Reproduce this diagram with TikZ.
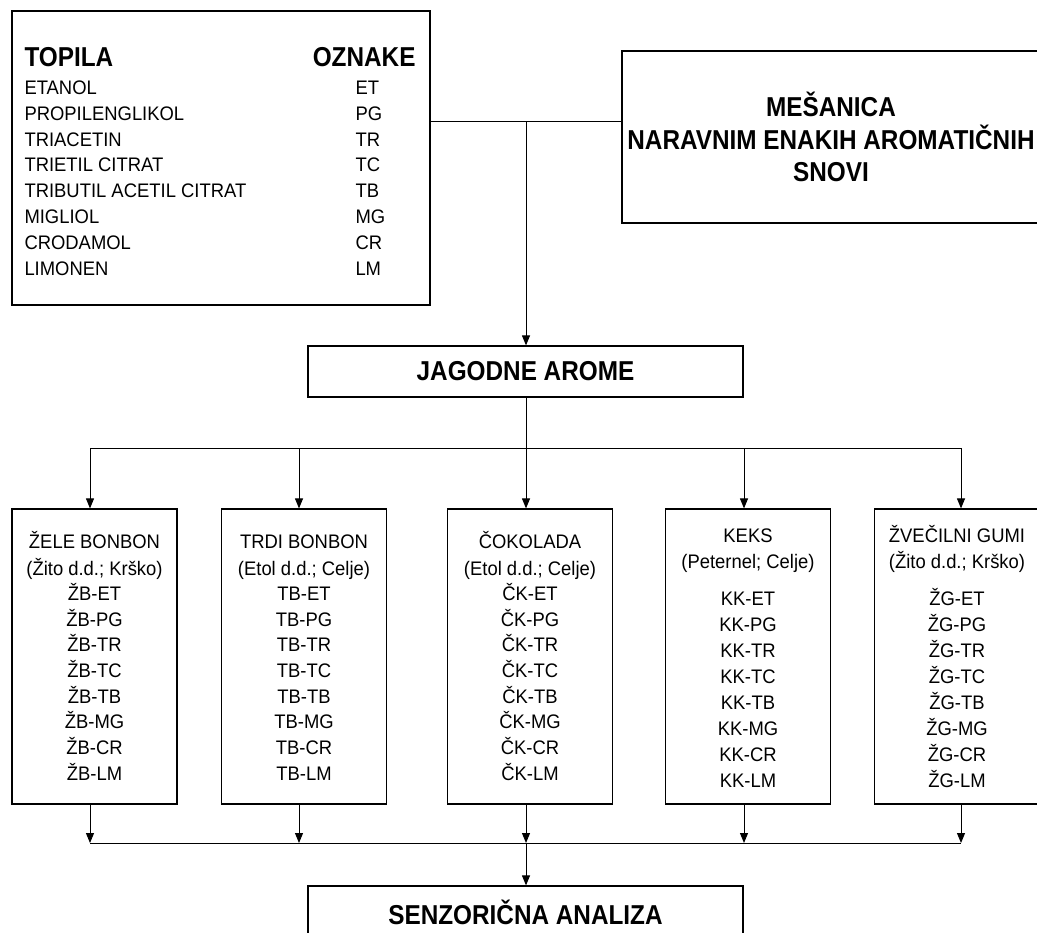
\documentclass[tikz,border=0pt]{standalone}
\usepackage{fontspec}
\setmainfont{Liberation Sans}[FakeStretch=0.94, BoldFeatures={FakeStretch=0.89}]
\usetikzlibrary{arrows.meta}
\newcommand{\bodyfont}{\fontsize{14.7}{16}\selectfont}
\newcommand{\headfont}{\fontsize{20.5}{24.4}\selectfont\bfseries}

\begin{document}
\begin{tikzpicture}[
    x=0.75pt, y=-0.75pt,
    line width=0.75pt,
    box/.style={draw, line width=0.9pt, inner sep=0pt},
    prod/.style={box, minimum width=123.75pt, minimum height=221.25pt},
    arr/.style={-{Triangle[length=7.5pt,width=6pt]}},
    lbl/.style={anchor=base, inner sep=0pt, font=\bodyfont},
    head/.style={anchor=base, inner sep=0pt, font=\headfont},
  ]
  \useasboundingbox (0,0) rectangle (1037,932);
  \clip (0,0) rectangle (1037,932);

  % ---------- Topila / oznake (top-left) ----------------------------------
  \node[box, minimum width=313.5pt, minimum height=220.5pt] (topila) at (221,158) {};
  \node[head, anchor=base west] at (24,66.5) {TOPILA};
  \node[head, anchor=base east] at (416,66.5) {OZNAKE};
  \foreach \name/\code [count=\i from 0] in {ETANOL/ET, PROPILENGLIKOL/PG,
      TRIACETIN/TR, TRIETIL CITRAT/TC, TRIBUTIL ACETIL CITRAT/TB,
      MIGLIOL/MG, CRODAMOL/CR, LIMONEN/LM} {
    \node[lbl, anchor=base west] at (24,{94.3+25.86*\i}) {\name};
    \node[lbl, anchor=base west] at (355,{94.3+25.86*\i}) {\code};
  }

  % ---------- Mesanica (top-right, cut by the page edge) ------------------
  \node[box, minimum width=313.5pt, minimum height=129pt, font=\headfont,
    align=center] (mesanica) at (831,137)
    {MEŠANICA\\NARAVNIM ENAKIH AROMATIČNIH\\SNOVI};

  % ---------- Jagodne arome -----------------------------------------------
  \node[box, minimum width=326.25pt, minimum height=38.25pt, font=\headfont]
    (jagodne) at (525.5,371.5) {JAGODNE AROME};

  \coordinate (split) at (526,121.5);
  \draw (topila.east |- split) -- (mesanica.west |- split);
  \draw[arr] (split) -- (jagodne.north -| split);

  % ---------- Products ----------------------------------------------------
  \foreach \id/\cx in {zb/94.5, tb/304, ck/530, kk/748, zg/957}
    \node[prod] (\id) at (\cx,656.5) {};

  % first three boxes: rows run on straight after the maker
  \foreach \cx/\ttl/\firm/\pre in {94.5/ŽELE BONBON/(Žito d.d.; Krško)/ŽB,
      304/TRDI BONBON/(Etol d.d.; Celje)/TB,
      530/ČOKOLADA/(Etol d.d.; Celje)/ČK} {
    \node[lbl] at (\cx,548.7) {\ttl};
    \node[lbl] at (\cx,575.3) {\firm};
    \foreach \code [count=\j from 0] in {ET,PG,TR,TC,TB,MG,CR,LM}
      \node[lbl] at (\cx,{600.3+25.73*\j}) {\pre-\code};
  }
  % last two boxes: a small gap under the maker
  \foreach \cx/\ttl/\firm/\pre in {748/KEKS/(Peternel; Celje)/KK,
      957/ŽVEČILNI GUMI/(Žito d.d.; Krško)/ŽG} {
    \node[lbl] at (\cx,542) {\ttl};
    \node[lbl] at (\cx,568.7) {\firm};
    \foreach \code [count=\j from 0] in {ET,PG,TR,TC,TB,MG,CR,LM}
      \node[lbl] at (\cx,{605+26*\j}) {\pre-\code};
  }

  % ---------- Senzoricna analiza (cut by the page edge) -------------------
  \node[box, minimum width=326.25pt, minimum height=55.5pt] (senz) at (525.5,923) {};
  \node[head] at (525.5,924.8) {SENZORIČNA ANALIZA};

  % ---------- Fan out / fan in --------------------------------------------
  \coordinate (fan) at (526,448);
  \draw (jagodne.south -| fan) -- (fan);
  \foreach \id/\ax in {zb/90, tb/299, ck/526, kk/744, zg/961} {
    \coordinate (top-\id) at (\ax,448);
    \coordinate (bot-\id) at (\ax,843);
  }
  \draw (top-zb) -- (top-zg);
  \draw (bot-zb) -- (bot-zg);
  \foreach \id in {zb,tb,ck,kk,zg} {
    \draw[arr] (top-\id) -- (top-\id |- \id.north);
    \draw[arr] (\id.south -| bot-\id) -- (bot-\id);
  }
  \draw[arr] (bot-ck) -- (senz.north -| bot-ck);

\end{tikzpicture}
\end{document}
